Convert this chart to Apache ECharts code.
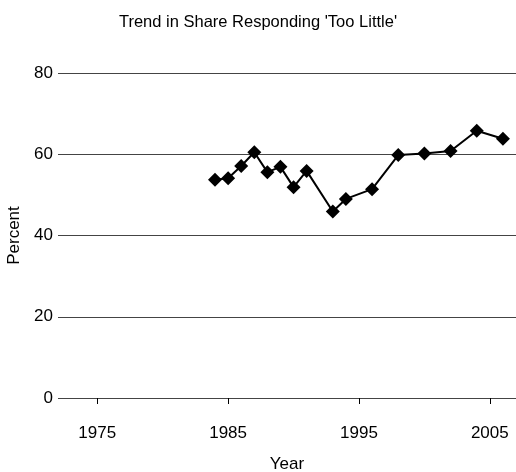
<!DOCTYPE html>
<html>
<head>
<meta charset="utf-8">
<script src="https://cdn.jsdelivr.net/npm/echarts@6/dist/echarts.min.js"></script>
<style>html,body{margin:0;padding:0;background:#fff;}#c{width:516px;height:472px;}</style>
</head>
<body>
<div id="c"></div>
<script>
const years = [1984, 1985, 1986, 1987, 1988, 1989, 1990, 1991, 1993, 1994, 1996, 1998, 2000, 2002, 2004, 2006];
const percentTooLittle = [53.7, 54.1, 57.1, 60.5, 55.6, 56.9, 51.9, 55.9, 45.9, 49.0, 51.4, 59.8, 60.2, 60.8, 65.8, 63.8];
const xTicks = [1975, 1985, 1995, 2005];
const yTicks = [0, 20, 40, 60, 80];
const titleText = "Trend in Share Responding 'Too Little'";

const font = 'Liberation Sans, Arial, Helvetica, sans-serif';
const chart = echarts.init(document.getElementById('c'), null, {renderer: 'canvas'});
chart.setOption({
  animation: false,
  backgroundColor: '#fff',
  title: {
    text: titleText, left: 'center', top: 9,
    textStyle: {fontFamily: font, fontSize: 16.5, fontWeight: 'normal', color: '#000'}
  },
  grid: {left: 58, top: 73, width: 458, height: 325, containLabel: false, outerBoundsMode: 'none'},
  xAxis: {
    type: 'value', min: 1972, max: 2007, offset: 13,
    name: 'Year', nameLocation: 'middle', nameGap: 45,
    nameTextStyle: {fontFamily: font, fontSize: 17, color: '#000'},
    axisLine: {show: false},
    axisTick: {show: true, length: 6, lineStyle: {color: '#000', width: 1},
      customValues: xTicks},
    axisLabel: {fontFamily: font, fontSize: 17, color: '#000', margin: 14,
      customValues: xTicks, formatter: v => String(v)},
    splitLine: {show: false}
  },
  yAxis: {
    type: 'value', min: 0, max: 80, interval: 20,
    name: 'Percent', nameLocation: 'middle', nameGap: 35,
    nameTextStyle: {fontFamily: font, fontSize: 17, color: '#000'},
    axisLine: {show: false},
    axisTick: {show: false},
    axisLabel: {fontFamily: font, fontSize: 17, color: '#000', margin: 5},
    splitLine: {show: true, lineStyle: {color: '#444', width: 1.2}}
  },
  series: [{
    type: 'line',
    data: years.map((y, i) => [y, percentTooLittle[i]]),
    symbol: 'diamond', symbolSize: 14,
    lineStyle: {color: '#000', width: 2},
    itemStyle: {color: '#000'}
  }]
});
</script>
</body>
</html>
